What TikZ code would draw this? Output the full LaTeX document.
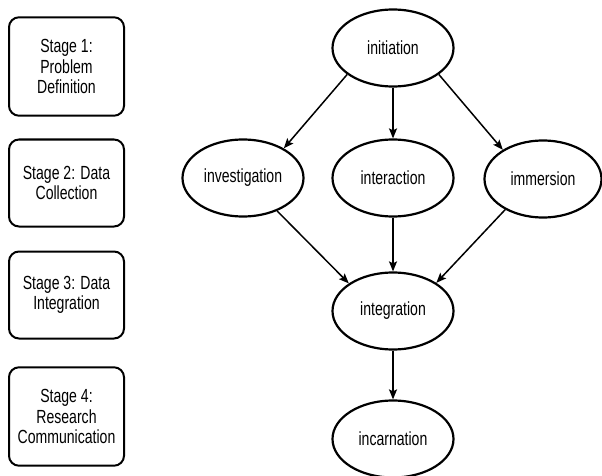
\documentclass[tikz,border=0pt]{standalone}
\usepackage{fontspec}
\setmainfont[FakeStretch=0.74]{Liberation Sans}
\usepackage{tikz}
\usetikzlibrary{arrows,arrows.meta,shapes,positioning}
\tikzset{
  every picture/.style = {
    >={Stealth[length=10pt,width=8pt,inset=2pt]},
    x = 1pt,
    y = -1pt
  }
  ,
  % phases of the process
  phase/.style = {
    ellipse,
    draw,
    line width = 2.2pt,
    font = \fontsize{19pt}{20.5pt}\selectfont,
    inner sep = 0pt,
    minimum width = 121pt,
    minimum height = 77pt
  }
  , % boxes of the stages
  stagebox/.style = {
    rectangle,
    rounded corners = 10pt,
    draw,
    line width = 2pt,
    font = \fontsize{19pt}{20.5pt}\selectfont,
    align = center,
    inner ysep = 22pt,
    minimum width = 115pt,
    minimum height = 87pt
  }
  , % edges between phases
  flow/.style = {
    ->,
    line width = 1.5pt
  }
}

\begin{document}
\begin{tikzpicture}
		\useasboundingbox (0,0) rectangle (602,476);
		\node[stagebox] at (66.5,66.5) (stage1) {Stage 1:\\Problem\\Definition};
		\node[stagebox] at (66.5,183) (stage2) {Stage 2: Data\\Collection};
		\node[stagebox] at (66.5,295) (stage3) {Stage 3: Data\\Integration};
		\node[stagebox] at (66.5,416.5) (stage4) {Stage 4:\\Research\\Communication};
		\node[phase] at (393,48) (init) {initiation};
		\node[phase] at (243,178) (inv) {investigation};
		\node[phase] at (393,178) (inter) {interaction};
		\node[phase, minimum width = 117pt] at (543,179) (imm) {immersion};
		\node[phase] at (393,311) (integ) {integration};
		\node[phase] at (393,439) (inc) {incarnation};
		\path (init.210) edge [flow] (inv.36);
		\path (init) edge [flow] (inter);
		\path (init.330) edge [flow] (imm.144);
		\path (inv.316) edge [flow] (integ.148);
		\path (inter) edge [flow] (integ);
		\path (imm.219) edge [flow] (integ.33);
		\path (integ) edge [flow] (inc);
		\end{tikzpicture}
\end{document}
